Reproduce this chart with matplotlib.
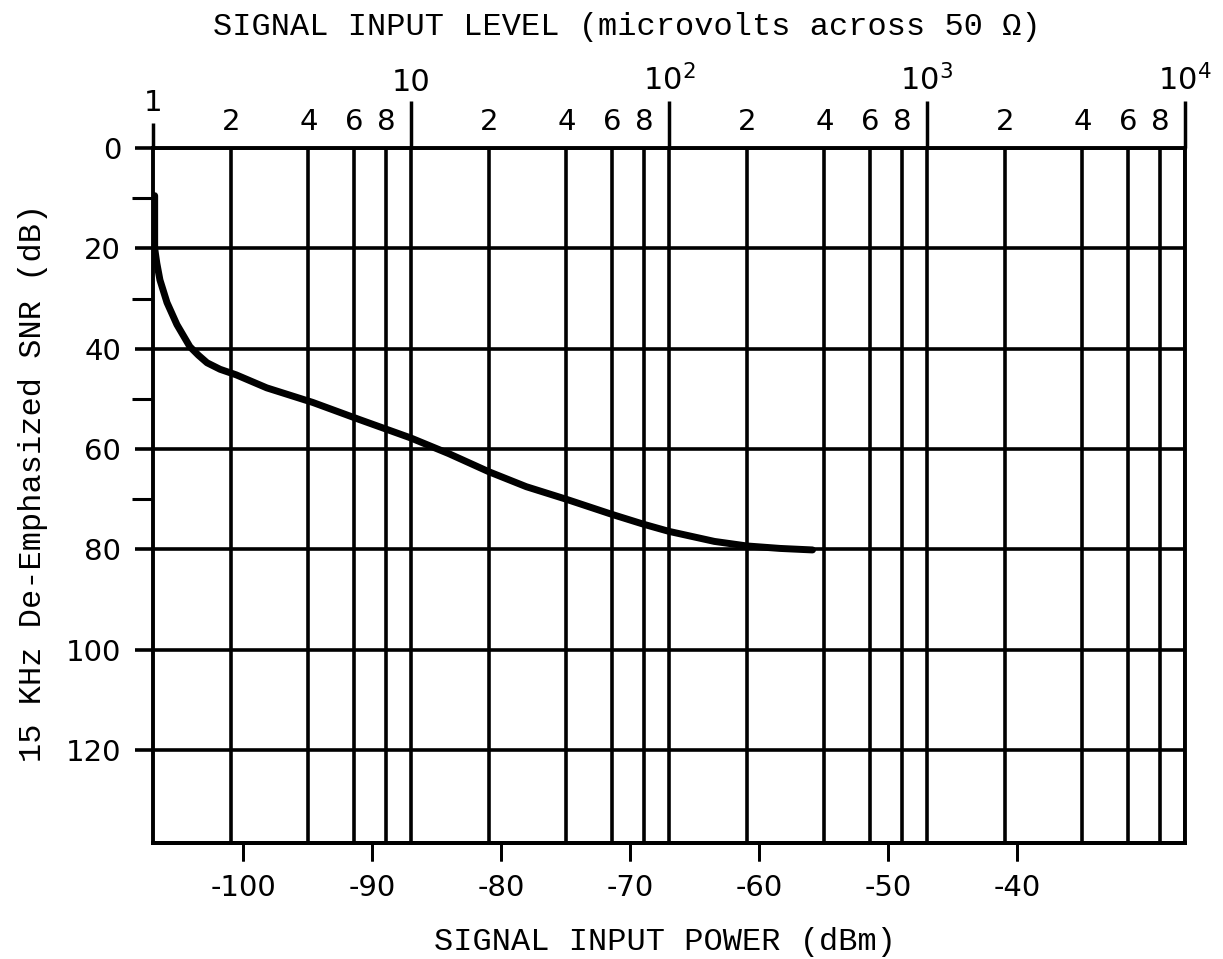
import matplotlib
matplotlib.use("Agg")
import matplotlib.pyplot as plt
import numpy as np
from matplotlib.ticker import FixedLocator, FixedFormatter, NullFormatter, NullLocator

# SNR curve (signal level in microvolts, SNR in dB)
level_uv = [1.015, 1.015, 1.035, 1.064, 1.133, 1.238, 1.39, 1.5, 1.62, 1.82, 2.1, 2.76,
            4.16, 6.3, 10, 14, 20, 28, 40, 60, 80, 100, 150, 200, 270, 360]
snr_db = [9.5, 20, 23, 26.3, 30.8, 35.2, 39.6, 41.3, 42.8, 44.1, 45.2, 47.8,
          50.7, 54.1, 57.8, 60.9, 64.5, 67.5, 70, 73, 75, 76.4, 78.4, 79.3, 79.8, 80.1]

top_major = [10, 100, 1000, 10000]
top_major_labels = ['10', '10$^2$', '10$^3$', '10$^4$']
top_minor = [m * d for d in (1, 10, 100, 1000) for m in (2, 4, 6, 8)]
top_minor_labels = [str(m) for d in (1, 10, 100, 1000) for m in (2, 4, 6, 8)]
dbm_ticks = [-100, -90, -80, -70, -60, -50, -40]
snr_ticks = [0, 20, 40, 60, 80, 100, 120]
snr_minor = [10, 30, 50, 70]


def uv_to_dbm(v):
    # microvolts across 50 ohm -> dBm
    return 20 * np.log10(v) - 107


plt.rcParams['font.family'] = 'DejaVu Sans'
mono = ['Liberation Mono', 'DejaVu Sans Mono']

fig = plt.figure(figsize=(12.23, 9.59), dpi=100)
rect = [153 / 1223, 1 - 843 / 959, (1185 - 153) / 1223, (843 - 148) / 959]
ax = fig.add_axes(rect)

ax.plot(level_uv, snr_db, color='black', lw=5, solid_capstyle='round',
        solid_joinstyle='round', zorder=5)

ax.set_xscale('log')
ax.set_xlim(1, 10000)
ax.set_ylim(138.5, 0)

# top axis: microvolts
ax.xaxis.set_ticks_position('top')
ax.xaxis.set_major_locator(FixedLocator(top_major))
ax.xaxis.set_major_formatter(FixedFormatter(top_major_labels))
ax.xaxis.set_minor_locator(FixedLocator(top_minor))
ax.xaxis.set_minor_formatter(FixedFormatter(top_minor_labels))
ax.tick_params(axis='x', which='major', top=True, bottom=False, labeltop=True,
               labelbottom=False, length=34, width=2.5, pad=3, labelsize=22)
ax.tick_params(axis='x', which='minor', top=True, bottom=False, labeltop=True,
               labelbottom=False, length=0, pad=9, labelsize=21)

# the "1" at the left end with its own shorter tick
one = ax.secondary_xaxis('top')
one.xaxis.set_major_locator(FixedLocator([1]))
one.xaxis.set_major_formatter(FixedFormatter(['1']))
one.xaxis.set_minor_locator(NullLocator())
one.tick_params(length=18, width=2.5, pad=4, labelsize=21)
one.spines['top'].set_visible(False)

# left axis: SNR
ax.set_yticks(snr_ticks)
ax.set_yticks(snr_minor, minor=True)
ax.yaxis.set_minor_formatter(NullFormatter())
ax.tick_params(axis='y', which='major', length=13, width=2.6, pad=10, labelsize=21)
ax.tick_params(axis='y', which='minor', length=15, width=2.2, labelsize=21)

ax.grid(axis='x', which='both', color='black', lw=2.6)
ax.grid(axis='y', which='major', color='black', lw=2.6)

for s in ax.spines.values():
    s.set_linewidth(2.8)

# bottom axis (dBm) is linear in log(microvolts): a plain linear axes on top lines up
bot = fig.add_axes(rect)
bot.patch.set_visible(False)
bot.set_xlim(uv_to_dbm(1), uv_to_dbm(10000))
bot.set_xticks(dbm_ticks)
bot.set_xticklabels([str(t) for t in dbm_ticks])
bot.set_yticks([])
tick_len = 13
bot.tick_params(axis='x', which='major', bottom=True, top=False,
                labelbottom=True, length=tick_len, width=2, pad=9, labelsize=21)
for name in ('left', 'right', 'top'):
    bot.spines[name].set_visible(False)
bot.spines['bottom'].set_linewidth(2.8)
# short marks under the frame at each dBm label
axes_h_pt = (843 - 148) * 72 / 100
bot.vlines(dbm_ticks, -tick_len / axes_h_pt, 0, transform=bot.get_xaxis_transform(),
           colors='black', lw=2, clip_on=False)

fig.text(627 / 1223, 1 - 27 / 959, 'SIGNAL INPUT LEVEL (microvolts across 50 \u03a9)',
         ha='center', va='center', fontsize=23, family=mono)
fig.text(665 / 1223, 1 - 942 / 959, 'SIGNAL INPUT POWER (dBm)',
         ha='center', va='center', fontsize=23, family=mono)
fig.text(33 / 1223, 1 - 483 / 959, '15 KHz De-Emphasized SNR (dB)',
         ha='center', va='center', rotation=90, fontsize=23, family=mono)

fig.savefig('out.png', dpi=100, facecolor='white')
